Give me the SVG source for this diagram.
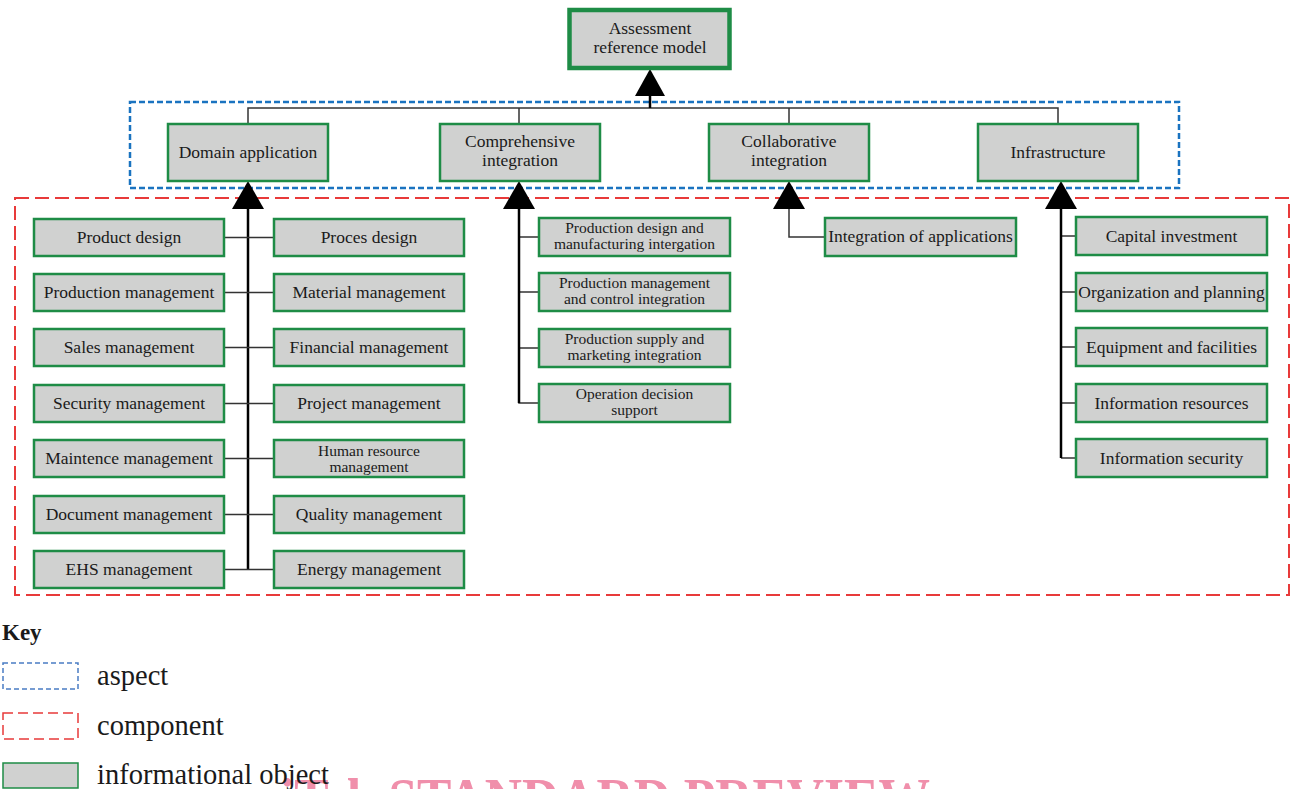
<svg xmlns="http://www.w3.org/2000/svg" width="1295" height="789" viewBox="0 0 1295 789">
<defs>
<style>
.box{fill:#d0d1d0;stroke:#1e8c46;stroke-width:2.5}
.t{font-family:"Liberation Serif","Times New Roman",serif;font-size:17.5px;fill:#1a1a1a;text-anchor:middle}
.s{font-size:15.5px}
.thin{stroke:#333;stroke-width:1.5;fill:none}
.trunk{stroke:#000;stroke-width:2.5;fill:none}
.tri{fill:#000}
.k{font-family:"Liberation Serif","Times New Roman",serif;font-size:28.5px;fill:#1a1a1a}
</style>
</defs>
<rect width="1295" height="789" fill="#fff"/>
<g id="aspect-frame"><rect x="130" y="102" width="1049" height="86" fill="none" stroke="#1a73c0" stroke-width="2.5" stroke-dasharray="6,3"/></g>
<g id="component-frame"><rect x="15" y="198" width="1274" height="397" fill="none" stroke="#e83a3a" stroke-width="2" stroke-dasharray="14,6"/></g>
<g id="connectors">
<path class="thin" d="M248,124V108H1058V124M519,108V124M789,108V124"/>
<path class="trunk" d="M650,96V108"/>
<polygon class="tri" points="650,69 635,96 665,96"/>
<polygon class="tri" points="248,181 232,209 264,209"/>
<polygon class="tri" points="519,181 503,209 535,209"/>
<polygon class="tri" points="789,181 773,209 805,209"/>
<polygon class="tri" points="1061,181 1045,209 1077,209"/>
<path class="trunk" d="M248,209V569.5"/>
<path class="thin" d="M224,237.5H274M224,292.5H274M224,347.5H274M224,403.5H274M224,458.5H274M224,514.5H274M224,569.5H274"/>
<path class="thin" d="M519,209V403H539M519,237H539M519,292H539M519,348H539"/>
<path class="trunk" d="M519,209V403"/>
<path class="thin" d="M789,209V237H825"/>
<path class="thin" d="M1061,458H1076M1061,236H1076M1061,292H1076M1061,347H1076M1061,403H1076"/>
<path class="trunk" d="M1061,209V458"/>
</g>
<g id="n-arm"><rect class="box" x="569.5" y="10" width="160" height="58" style="stroke-width:4.5"/><text class="t" x="650" y="34">Assessment</text><text class="t" x="650" y="53">reference model</text></g>
<g id="n-domain"><rect class="box" x="168" y="124" width="160" height="57"/><text class="t" x="248" y="158">Domain application</text></g>
<g id="n-comp"><rect class="box" x="440" y="124" width="160" height="57"/><text class="t" x="520" y="147">Comprehensive</text><text class="t" x="520" y="166">integration</text></g>
<g id="n-collab"><rect class="box" x="709" y="124" width="160" height="57"/><text class="t" x="789" y="147">Collaborative</text><text class="t" x="789" y="166">integration</text></g>
<g id="n-infra"><rect class="box" x="978" y="124" width="160" height="57"/><text class="t" x="1058" y="158">Infrastructure</text></g>
<g id="n-product-design"><rect class="box" x="34" y="219" width="190" height="37"/><text class="t" x="129" y="243">Product design</text></g>
<g id="n-production-mgmt"><rect class="box" x="34" y="274" width="190" height="37"/><text class="t" x="129" y="298">Production management</text></g>
<g id="n-sales"><rect class="box" x="34" y="329" width="190" height="37"/><text class="t" x="129" y="353">Sales management</text></g>
<g id="n-security"><rect class="box" x="34" y="385" width="190" height="37"/><text class="t" x="129" y="409">Security management</text></g>
<g id="n-maint"><rect class="box" x="34" y="440" width="190" height="37"/><text class="t" x="129" y="464">Maintence management</text></g>
<g id="n-document"><rect class="box" x="34" y="496" width="190" height="37"/><text class="t" x="129" y="520">Document management</text></g>
<g id="n-ehs"><rect class="box" x="34" y="551" width="190" height="37"/><text class="t" x="129" y="575">EHS management</text></g>
<g id="n-proces"><rect class="box" x="274" y="219" width="190" height="37"/><text class="t" x="369" y="243">Proces design</text></g>
<g id="n-material"><rect class="box" x="274" y="274" width="190" height="37"/><text class="t" x="369" y="298">Material management</text></g>
<g id="n-financial"><rect class="box" x="274" y="329" width="190" height="37"/><text class="t" x="369" y="353">Financial management</text></g>
<g id="n-project"><rect class="box" x="274" y="385" width="190" height="37"/><text class="t" x="369" y="409">Project management</text></g>
<g id="n-hr"><rect class="box" x="274" y="440" width="190" height="37"/><text class="t s" x="369" y="456">Human resource</text><text class="t s" x="369" y="472">management</text></g>
<g id="n-quality"><rect class="box" x="274" y="496" width="190" height="37"/><text class="t" x="369" y="520">Quality management</text></g>
<g id="n-energy"><rect class="box" x="274" y="551" width="190" height="37"/><text class="t" x="369" y="575">Energy management</text></g>
<g id="n-pdmi"><rect class="box" x="539" y="218" width="191" height="38"/><text class="t s" x="634.5" y="233">Production design and</text><text class="t s" x="634.5" y="249">manufacturing intergation</text></g>
<g id="n-pmci"><rect class="box" x="539" y="273" width="191" height="38"/><text class="t s" x="634.5" y="288">Production management</text><text class="t s" x="634.5" y="304">and control integration</text></g>
<g id="n-psmi"><rect class="box" x="539" y="329" width="191" height="38"/><text class="t s" x="634.5" y="344">Production supply and</text><text class="t s" x="634.5" y="360">marketing integration</text></g>
<g id="n-ods"><rect class="box" x="539" y="384" width="191" height="38"/><text class="t s" x="634.5" y="399">Operation decision</text><text class="t s" x="634.5" y="415">support</text></g>
<g id="n-ioa"><rect class="box" x="825" y="218" width="191" height="38"/><text class="t" x="920.5" y="242">Integration of applications</text></g>
<g id="n-capital"><rect class="box" x="1076" y="217" width="191" height="38"/><text class="t" x="1171.5" y="242">Capital investment</text></g>
<g id="n-org"><rect class="box" x="1076" y="273" width="191" height="38"/><text class="t" x="1171.5" y="298">Organization and planning</text></g>
<g id="n-equip"><rect class="box" x="1076" y="328" width="191" height="38"/><text class="t" x="1171.5" y="353">Equipment and facilities</text></g>
<g id="n-info-res"><rect class="box" x="1076" y="384" width="191" height="38"/><text class="t" x="1171.5" y="409">Information resources</text></g>
<g id="n-info-sec"><rect class="box" x="1076" y="439" width="191" height="38"/><text class="t" x="1171.5" y="464">Information security</text></g>
<g id="key">
<text x="2" y="640" style="font-family:'Liberation Serif',serif;font-weight:bold;font-size:23px;fill:#1a1a1a">Key</text>
<rect x="3" y="663" width="75" height="26" fill="none" stroke="#4a7cc4" stroke-width="1.5" stroke-dasharray="5,3"/>
<text class="k" x="97" y="685">aspect</text>
<rect x="3" y="713" width="75" height="26" fill="none" stroke="#e83a3a" stroke-width="1.5" stroke-dasharray="10,5"/>
<text class="k" x="97" y="735">component</text>
<rect x="3" y="763" width="75" height="25" fill="#d0d1d0" stroke="#1e8c46" stroke-width="1.5"/>
</g>
<text x="280" y="818" textLength="650" lengthAdjust="spacingAndGlyphs" style="font-family:'Liberation Serif',serif;font-weight:bold;font-size:56px;fill:#f08fab">iTeh STANDARD PREVIEW</text>
<text class="k" x="97" y="784">informational object</text>
</svg>
